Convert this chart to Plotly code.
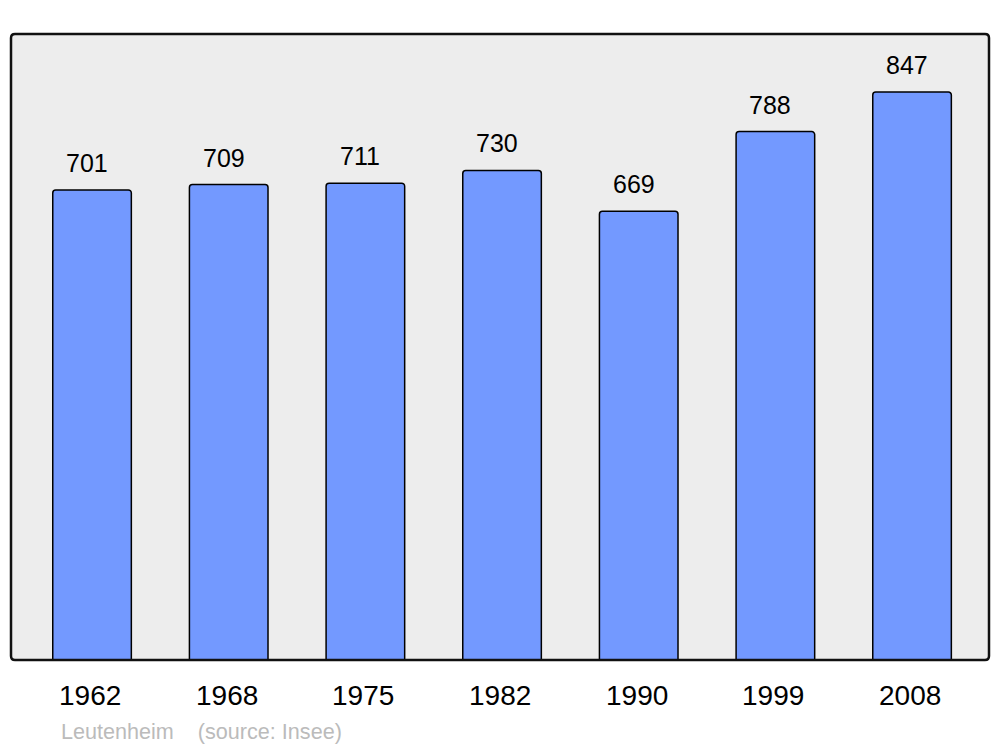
import plotly.graph_objects as go

years = ["1962", "1968", "1975", "1982", "1990", "1999", "2008"]
population = [701, 709, 711, 730, 669, 788, 847]
source_text = "Leutenheim\u00a0\u00a0\u00a0\u00a0(source: Insee)"

W, H = 992, 739
ML, MR, MT, MB = 3, 11, 26, 87
pw, ph = W - ML - MR, H - MT - MB

fig = go.Figure()
fig.add_trace(go.Bar(
    x=list(range(len(years))),
    y=population,
    width=0.575,
    marker=dict(color="#7399FF", line=dict(color="black", width=1.5), cornerradius=3),
    hoverinfo="skip",
))

for i, v in enumerate(population):
    fig.add_annotation(x=i, y=v, text=str(v), showarrow=False, yanchor="bottom",
                       yshift=11, xshift=-5,
                       font=dict(family="Liberation Sans, Arial", size=25, color="black"))

# category labels below the axis
for i, yr in enumerate(years):
    fig.add_annotation(x=i, y=0, text=yr, showarrow=False, yanchor="middle",
                       yshift=-35, xshift=-2,
                       font=dict(family="Liberation Sans, Arial", size=28, color="black"))

fig.add_annotation(xref="paper", yref="paper", x=(59 - 11) / pw, y=-0.091, xanchor="left",
                   yanchor="top", text=source_text, showarrow=False,
                   font=dict(family="Liberation Sans, Arial", size=21.6, color="#BBBBBB"))

# rounded frame around plot area
r = 4
rx, ry = r / pw, r / ph
path = (f"M {rx},0 L {1-rx},0 Q 1,0 1,{ry} L 1,{1-ry} Q 1,1 {1-rx},1 "
        f"L {rx},1 Q 0,1 0,{1-ry} L 0,{ry} Q 0,0 {rx},0 Z")
fig.add_shape(type="path", xref="paper", yref="paper", path=path,
              line=dict(color="#111111", width=2.5), layer="above")

fig.update_layout(
    width=W, height=H,
    margin=dict(l=ML, r=MR, t=MT, b=MB),
    paper_bgcolor="white",
    plot_bgcolor="#EDEDED",
    showlegend=False,
    xaxis=dict(range=[-0.593, 6.563], tickvals=list(range(len(years))),
               showticklabels=False, showgrid=False, zeroline=False, ticks="",
               showline=False),
    yaxis=dict(range=[0, 933.5], showgrid=False, zeroline=False, showticklabels=False,
               ticks="", showline=False),
)

fig.write_html("out.html")
